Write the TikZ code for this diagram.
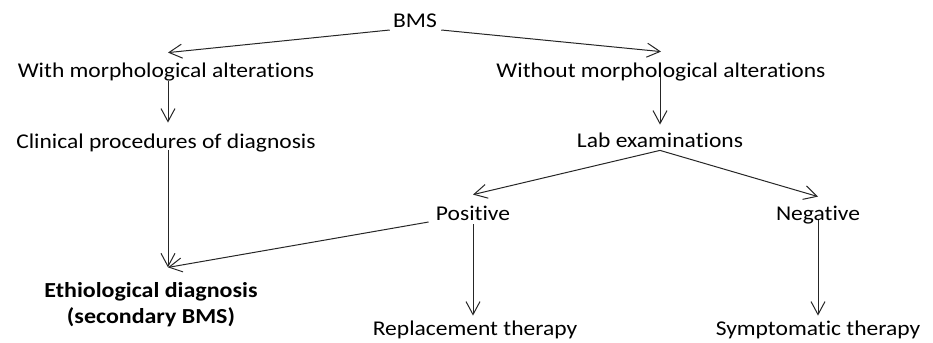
\documentclass[tikz,border=0pt]{standalone}
\usepackage{fontspec}
\setmainfont{Carlito}[Ligatures={NoCommon}, FakeStretch=1.12]
\usepackage{tikz}
\usetikzlibrary{arrows.meta}
\tikzstyle{lbl}=[inner sep=0, anchor=base, text height=7.5pt, text depth=2pt]
\tikzstyle{arr}=[draw=black!85, line width=0.5pt, -{Straight Barb[length=6.5pt,width=7pt]}]

\begin{document}
\begin{tikzpicture}[x=0.5pt, y=-0.5pt, font=\fontsize{10.5}{13}\selectfont]
            \useasboundingbox (0,0) rectangle (933,343);
            \node[lbl] (bms) at (415,27) {BMS};
            \node[lbl] (with) at (166,77) {With morphological alterations};
            \node[lbl] (without) at (661,77) {Without morphological alterations};
            \node[lbl] (clin) at (166,148) {Clinical procedures of diagnosis};
            \node[lbl] (lab) at (660,147) {Lab examinations};
            \node[lbl] (pos) at (473,220) {Positive};
            \node[lbl] (neg) at (818,220) {Negative};
            \node[inner sep=0, align=center, font=\fontsize{10.7}{13}\selectfont\bfseries] (etio) at (151,305) {Ethiological diagnosis\\(secondary BMS)};
            \node[lbl] (repl) at (475,335) {Replacement therapy};
            \node[lbl] (symp) at (818,335) {Symptomatic therapy};

            \draw[arr] ([shift={(-1.5pt,-1.5pt)}]bms.base west) -- ([xshift=1pt,yshift=4.5pt]with.north);
            \draw[arr] ([shift={(2pt,-1.5pt)}]bms.base east) -- ([yshift=5pt]without.north);
            \draw[arr] ([xshift=1pt]with.south) -- ([xshift=1pt,yshift=5pt]clin.north);
            \draw[arr] ([xshift=-0.5pt,yshift=2pt]without.south) -- ([yshift=3.5pt]lab.north);
            \draw[arr] ([xshift=1pt,yshift=1pt]clin.south) -- ([xshift=8.5pt,yshift=7.5pt]etio.north);
            \draw[arr] ([yshift=0.5pt]lab.south) -- ([yshift=5pt]pos.north);
            \draw[arr] ([yshift=0.5pt]lab.south) -- ([yshift=4pt]neg.north);
            \draw[arr] ([shift={(-3.5pt,-1pt)}]pos.base west) -- ([xshift=8.5pt,yshift=7.5pt]etio.north);
            \draw[arr] (pos.south) -- ([xshift=-1pt,yshift=2pt]repl.north);
            \draw[arr] ([yshift=2pt]neg.south) -- ([yshift=2pt]symp.north);
\end{tikzpicture}
\end{document}
